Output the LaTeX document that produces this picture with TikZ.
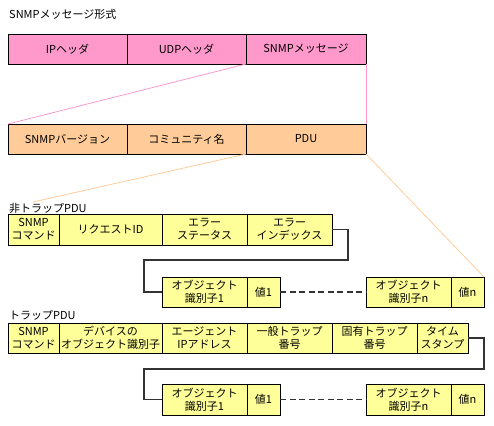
\documentclass[tikz,border=0pt]{standalone}
\usepackage{fontspec}
\setmainfont{Noto Sans CJK JP}
\definecolor{pinkf}{HTML}{FF99CC}
\definecolor{orangef}{HTML}{FFCC99}
\definecolor{yellowf}{HTML}{FFFF99}
\definecolor{conn}{HTML}{333333}
\begin{document}
\begin{tikzpicture}[x=1pt,y=-1pt,
  cell/.style={draw=black,line width=0.9pt,anchor=north west,inner sep=0pt,outer sep=0pt,
    align=center,font=\fontsize{11}{13}\selectfont},
  pcell/.style={cell,fill=pinkf,minimum height=30pt},
  ocell/.style={cell,fill=orangef,minimum height=30pt},
  ycell/.style={cell,fill=yellowf},
  lbl/.style={anchor=west,inner sep=0pt,font=\fontsize{11}{13}\selectfont},
  link/.style={line width=1.8pt,draw=conn},
  dlink/.style={line width=1.8pt,draw=conn,dash pattern=on 6pt off 3.5pt}]
\useasboundingbox (0,0) rectangle (494,425);
% title
\node[lbl] (title) at (9,14) {SNMPメッセージ形式};
% pink row
\node[pcell,minimum width=119pt] (ip) at (8,34) {IPヘッダ};
\node[pcell,minimum width=119pt] (udp) at (127,34) {UDPヘッダ};
\node[pcell,minimum width=120pt] (msg) at (246,34) {SNMPメッセージ};
% orange row
\node[ocell,minimum width=119pt] (ver) at (8,124) {SNMPバージョン};
\node[ocell,minimum width=119pt] (comm) at (127,124) {コミュニティ名};
\node[ocell,minimum width=120pt] (pdu) at (246,124) {PDU};
\draw[pinkf,line width=0.8pt] (msg.south west) -- (ver.north west);
\draw[pinkf,line width=0.8pt] (msg.south east) -- (pdu.north east);
% non-trap PDU
\node[lbl] (ntl) at (9,208) {非トラップPDU};
\coordinate (ntc) at (33,202);
\node[ycell,minimum width=51pt,minimum height=31pt] (snmp1) at (8,214) {SNMP\\コマンド};
\node[ycell,minimum width=103pt,minimum height=31pt] (req) at (59,214) {リクエストID};
\node[ycell,minimum width=85pt,minimum height=31pt] (errst) at (162,214) {エラー\\ステータス};
\node[ycell,minimum width=85pt,minimum height=31pt] (errix) at (247,214) {エラー\\インデックス};
\node[ycell,minimum width=85pt,minimum height=30pt] (oid11) at (162,277) {オブジェクト\\識別子1};
\node[ycell,minimum width=33pt,minimum height=30pt] (val11) at (247,277) {値1};
\node[ycell,minimum width=85pt,minimum height=30pt] (oidn1) at (366,277) {オブジェクト\\識別子n};
\node[ycell,minimum width=33pt,minimum height=30pt] (valn1) at (451,277) {値n};
\draw[orangef,line width=0.8pt] (pdu.south west) -- (ntc);
\draw[orangef,line width=0.8pt] (pdu.south east) -- (valn1.north east);
\coordinate (c1a) at (348,260);
\coordinate (c1b) at (144,260);
\draw[link] (errix.east) -| (c1a) -- (c1b) |- (oid11.west);
\draw[dlink] (val11.east) -- (oidn1.west);
% trap PDU
\node[lbl] (tl) at (9,315) {トラップPDU};
\node[ycell,minimum width=51pt,minimum height=30pt] (snmp2) at (8,323) {SNMP\\コマンド};
\node[ycell,minimum width=103pt,minimum height=30pt] (dev) at (59,323) {デバイスの\\オブジェクト識別子};
\node[ycell,minimum width=85pt,minimum height=30pt] (agent) at (162,323) {エージェント\\IPアドレス};
\node[ycell,minimum width=85pt,minimum height=30pt] (gen) at (247,323) {一般トラップ\\番号};
\node[ycell,minimum width=85pt,minimum height=30pt] (spec) at (332,323) {固有トラップ\\番号};
\node[ycell,minimum width=51pt,minimum height=30pt] (ts) at (417,323) {タイム\\スタンプ};
\node[ycell,minimum width=85pt,minimum height=31pt] (oid12) at (162,384) {オブジェクト\\識別子1};
\node[ycell,minimum width=33pt,minimum height=31pt] (val12) at (247,384) {値1};
\node[ycell,minimum width=85pt,minimum height=31pt] (oidn2) at (366,384) {オブジェクト\\識別子n};
\node[ycell,minimum width=33pt,minimum height=31pt] (valn2) at (451,384) {値n};
\coordinate (c2a) at (484,369);
\coordinate (c2b) at (144,369);
\draw[link] (ts.east) -| (c2a) -- (c2b) |- (oid12.west);
\draw[dlink] (val12.east) -- (oidn2.west);
\end{tikzpicture}
\end{document}
